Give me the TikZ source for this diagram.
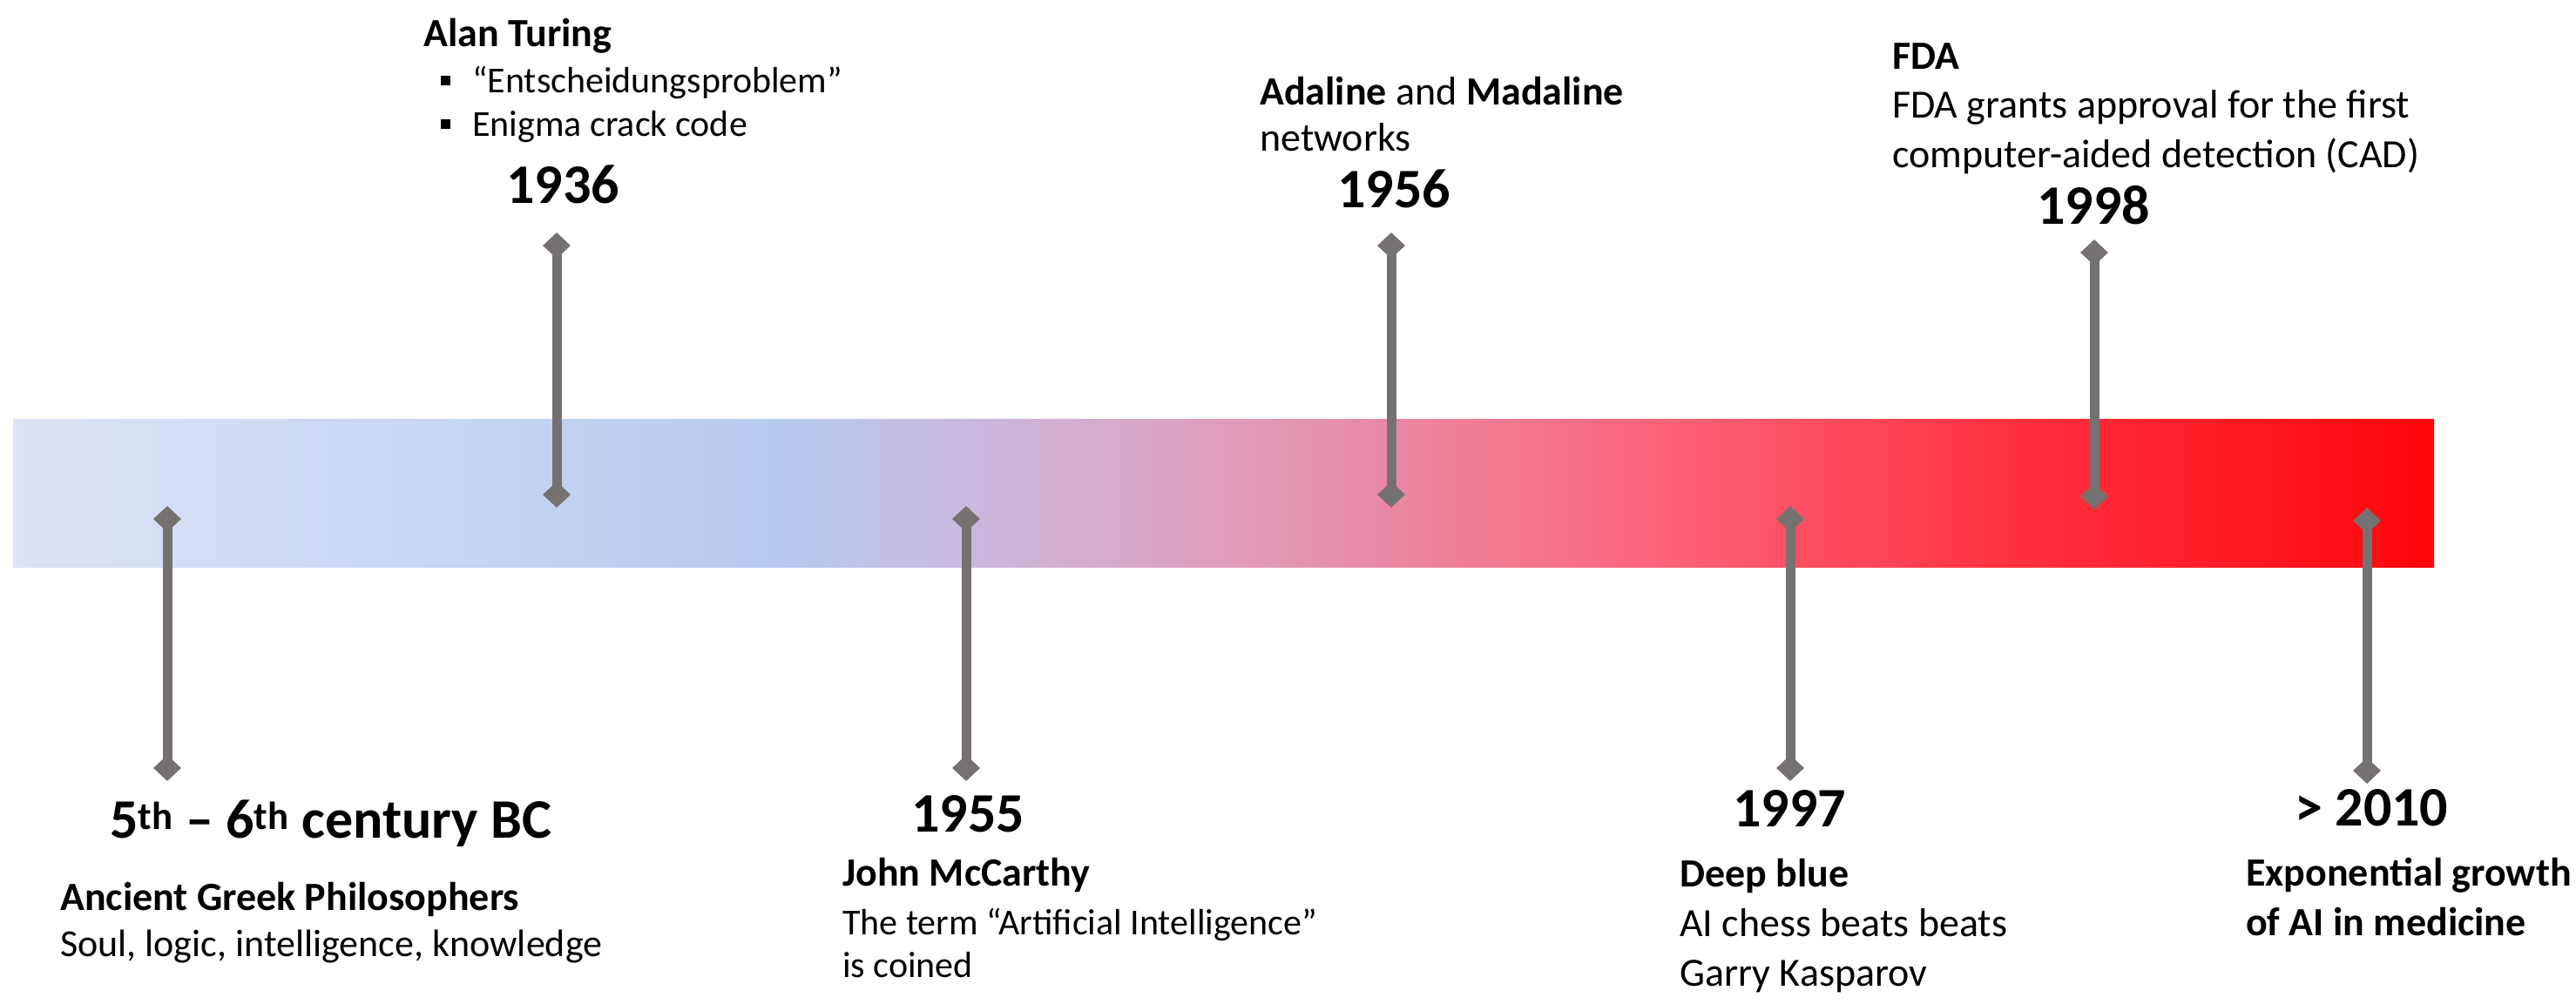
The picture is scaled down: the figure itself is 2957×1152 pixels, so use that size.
\documentclass[tikz,border=0pt]{standalone}
\usepackage{fontspec}
\setmainfont{Carlito}
\usetikzlibrary{shapes.geometric}
\definecolor{stemgray}{RGB}{118,113,113}
\pgfdeclarehorizontalshading{bandshade}{100bp}{rgb(0bp)=(.867,.890,.961); rgb(25bp)=(.867,.890,.961); rgb(40.9bp)=(.718,.792,.941); rgb(43.6bp)=(.769,.745,.894); rgb(48.1bp)=(.847,.659,.784); rgb(53.5bp)=(.918,.533,.635); rgb(58.9bp)=(.988,.392,.478); rgb(66.1bp)=(1,.196,.255); rgb(75bp)=(1,.02,.04); rgb(100bp)=(1,.02,.04)}
\tikzset{
  body/.style={inner sep=0pt, anchor=base west, font=\fontsize{46}{56}\selectfont},
  smallbody/.style={inner sep=0pt, anchor=base west, font=\fontsize{42}{50}\selectfont},
  ttl/.style={inner sep=0pt, anchor=base west, font=\fontsize{46}{56}\selectfont\bfseries},
  yr/.style={inner sep=0pt, anchor=base, font=\fontsize{64}{76}\selectfont\bfseries},
  dia/.style={diamond, fill=stemgray, inner sep=0pt, minimum width=32pt, minimum height=30pt},
  stem/.style={draw=stemgray, line width=11pt},
}
\begin{document}
\begin{tikzpicture}[x=1pt,y=-1pt]
\useasboundingbox (0,0) rectangle (2957,1152);
\fill[white] (0,0) rectangle (2957,1152);
% band
\shade[shading=bandshade] (15,481) rectangle (2794,651);
% markers
\foreach \n/\x/\ya/\yb in {1/192/596/882, 2/639/282/568, 3/1109/596/882, 4/1597/282/568, 5/2055/596/882, 6/2404/290/570, 7/2717/598/885}{
  \node[dia] (d\n t) at (\x,\ya) {};
  \node[dia] (d\n b) at (\x,\yb) {};
  \draw[stem] (d\n t.center) -- (d\n b.center);
}
% top texts
\node[ttl] (alan) at (486,53) {Alan Turing};
\node[inner sep=0pt, anchor=base west] (bul1) at (506,106) {\rule[8pt]{11pt}{11pt}};
\node[smallbody] (ent) at (542,106) {“Entscheidungsproblem”};
\node[inner sep=0pt, anchor=base west] (bul2) at (506,156) {\rule[8pt]{11pt}{11pt}};
\node[smallbody] (eni) at (542,156) {Enigma crack code};
\node[yr] (y1936) at (646,233) {1936};

\node[body] (ada) at (1446,120) {\textbf{Adaline} and \textbf{Madaline}};
\node[body] (net) at (1446,173) {networks};
\node[yr] (y1956) at (1600,238) {1956};

\node[ttl] (fda) at (2172,79) {FDA};
\node[body] (fda2) at (2172,135) {FDA grants approval for the first};
\node[body] (fda3) at (2172,192) {computer-aided detection (CAD)};
\node[yr] (y1998) at (2403,257) {1998};

% bottom texts
\node[yr, anchor=base west] (y5) at (126,962) {5\textsuperscript{th} – 6\textsuperscript{th} century BC};
\node[ttl] (anc) at (69,1045) {Ancient Greek Philosophers};
\node[body, font=\fontsize{44}{52}\selectfont] (soul) at (69,1098) {Soul, logic, intelligence, knowledge};

\node[yr] (y1955) at (1111,955) {1955};
\node[ttl] (john) at (967,1017) {John McCarthy};
\node[body, font=\fontsize{42}{52}\selectfont] (term) at (967,1073) {The term “Artificial Intelligence”};
\node[body, font=\fontsize{42}{52}\selectfont] (coin) at (967,1122) {is coined};

\node[yr] (y1997) at (2054,949) {1997};
\node[ttl] (deep) at (1928,1018) {Deep blue};
\node[body] (chess) at (1928,1075) {AI chess beats beats};
\node[body] (garry) at (1928,1132) {Garry Kasparov};

\node[yr, anchor=base west] (y2010) at (2634,948) {> 2010};
\node[ttl] (exp) at (2578,1017) {Exponential growth};
\node[ttl] (med) at (2578,1074) {of AI in medicine};
\end{tikzpicture}
\end{document}
